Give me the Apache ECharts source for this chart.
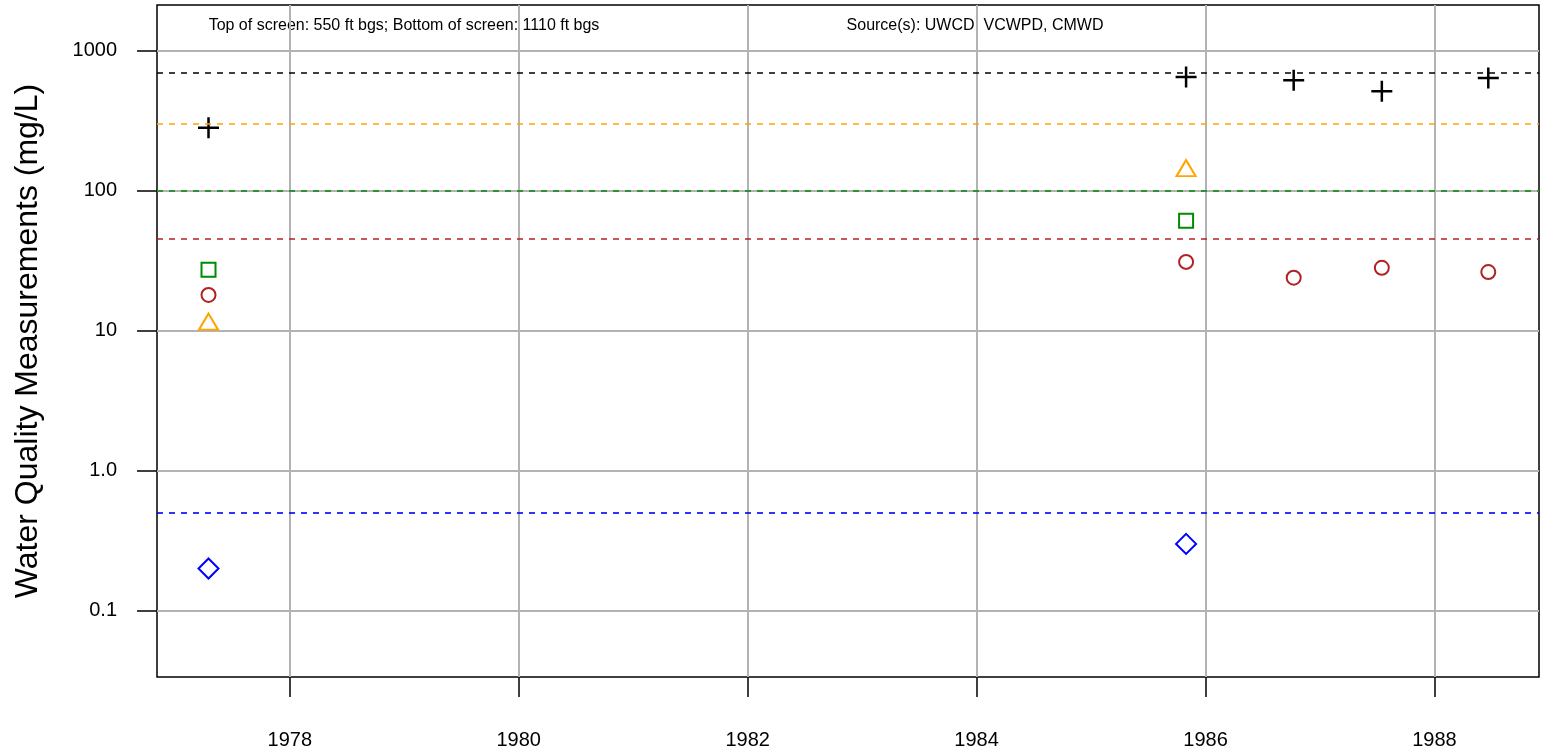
<!DOCTYPE html>
<html>
<head>
<meta charset="utf-8">
<script src="https://cdn.jsdelivr.net/npm/echarts@6/dist/echarts.min.js"></script>
<style>
  html, body { margin: 0; padding: 0; background: #fff; }
  #chart { width: 1542px; height: 752px; }
</style>
</head>
<body>
<div id="chart"></div>
<script>
// tick values / labels
const xTicks = [1978, 1980, 1982, 1984, 1986, 1988];
const yTicks = [0.1, 1, 10, 100, 1000];
const yTickLabels = ['0.1', '1.0', '10', '100', '1000'];

// sample dates (decimal years) and measurements, mg/L
const plusX = [1977.29, 1985.83, 1986.77, 1987.54, 1988.47];
const plusY = [281, 649, 614, 512, 638];
const triX = [1977.29, 1985.83];
const triY = [11.6, 145];
const squareX = [1977.29, 1985.83];
const squareY = [27.2, 61];
const circleX = [1977.29, 1985.83, 1986.77, 1987.54, 1988.47];
const circleY = [18, 31, 23.9, 28.1, 26.2];
const diamondX = [1977.29, 1985.83];
const diamondY = [0.2, 0.3];

// reference levels
const limitPlus = 700;
const limitTri = 300;
const limitSquare = 100;
const limitCircle = 45;
const limitDiamond = 0.5;

const noteLeft = 'Top of screen: 550 ft bgs; Bottom of screen: 1110 ft bgs';
const noteRight = 'Source(s): UWCD, VCWPD, CMWD';

const FONT = "'Liberation Sans', Arial, Helvetica, sans-serif";

function pairs(xs, ys) {
  return xs.map((x, i) => [x, ys[i]]);
}

function refLine(value, color) {
  return {
    silent: true,
    symbol: 'none',
    label: { show: false },
    emphasis: { disabled: true },
    lineStyle: { color: color, type: [6, 6], width: 1.6, opacity: 1 },
    data: [{ yAxis: value }]
  };
}

function series(name, xs, ys, symbol, size, color, limit, lw) {
  return {
    name: name,
    type: 'scatter',
    data: pairs(xs, ys),
    symbol: symbol,
    symbolSize: size,
    itemStyle: { color: 'rgba(0,0,0,0)', borderColor: color, borderWidth: lw || 2, opacity: 1 },
    markLine: refLine(limit, color),
    z: 3
  };
}

const chart = echarts.init(document.getElementById('chart'));
chart.setOption({
  animation: false,
  textStyle: { fontFamily: FONT },
  grid: {
    left: 157, right: 3, top: 5, bottom: 75,
    show: true, borderColor: '#000', borderWidth: 1.5
  },
  graphic: [
    { type: 'text', x: 404, y: 26, style: { text: noteLeft, font: '16px ' + FONT, fill: '#000', align: 'center', verticalAlign: 'middle' } },
    { type: 'text', x: 975, y: 26, style: { text: noteRight, font: '16px ' + FONT, fill: '#000', align: 'center', verticalAlign: 'middle' } }
  ],
  xAxis: {
    type: 'value',
    min: 1976.84,
    max: 1988.913,
    axisLine: { show: false },
    axisTick: { show: true, customValues: xTicks, length: 20, lineStyle: { color: '#000', width: 1.5 } },
    axisLabel: { customValues: xTicks, margin: 53, fontSize: 20, color: '#000', fontFamily: FONT, formatter: v => String(v) },
    splitLine: { show: true, lineStyle: { color: '#b3b3b3', width: 2 } }
  },
  yAxis: {
    type: 'log',
    logBase: 10,
    min: 0.0336,
    max: 2119,
    name: 'Water Quality Measurements (mg/L)',
    nameLocation: 'middle',
    nameGap: 113,
    nameTextStyle: { fontSize: 32, color: '#000', fontFamily: FONT },
    axisLine: { show: false },
    axisTick: { show: true, customValues: yTicks, length: 20, lineStyle: { color: '#000', width: 1.5 } },
    axisLabel: {
      customValues: yTicks, margin: 40, fontSize: 20, color: '#000', fontFamily: FONT,
      formatter: v => {
        const i = yTicks.findIndex(t => Math.abs(t - v) / t < 1e-6);
        return i >= 0 ? yTickLabels[i] : '';
      }
    },
    splitLine: { show: true, lineStyle: { color: '#b3b3b3', width: 2 } }
  },
  series: [
    series('plus', plusX, plusY, 'path://M10,0 L10,20 M0,10 L20,10', 21, '#000', limitPlus, 2.5),
    series('triangle', triX, triY, 'triangle', [19, 16], '#FFA500', limitTri),
    series('square', squareX, squareY, 'rect', 14, '#008B00', limitSquare),
    series('circle', circleX, circleY, 'circle', 14, '#B22222', limitCircle),
    series('diamond', diamondX, diamondY, 'diamond', 20, '#0000FF', limitDiamond)
  ]
});
</script>
</body>
</html>
